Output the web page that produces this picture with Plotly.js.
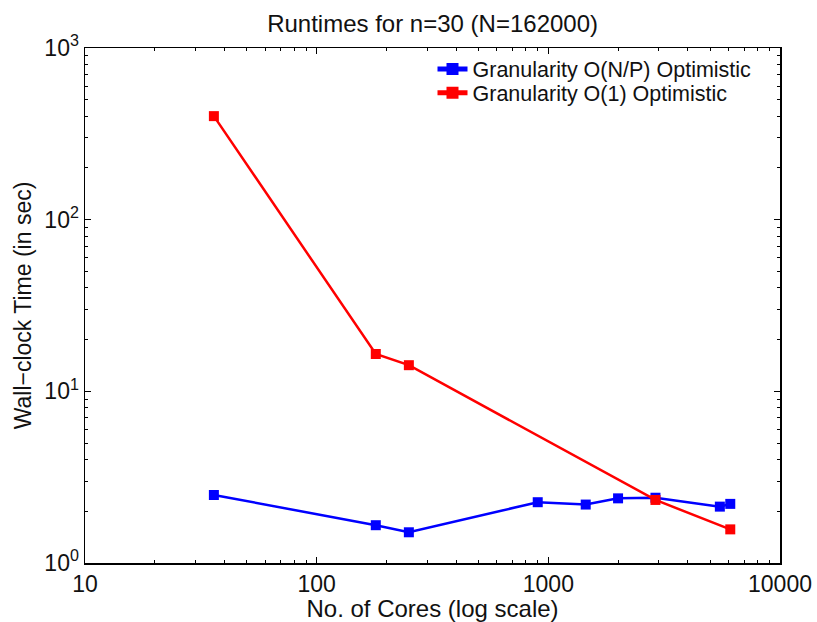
<!DOCTYPE html>
<html>
<head>
<meta charset="utf-8">
<script src="https://cdn.plot.ly/plotly-3.0.1.min.js"></script>
<style>html,body{margin:0;padding:0;background:#fff;}#chart{width:817px;height:622px;}</style>
</head>
<body>
<div id="chart"></div>
<script>
// Data
const coresNP = [36, 180, 250, 900, 1450, 2000, 2900, 5500, 6100];
const timeNP  = [2.49, 1.66, 1.51, 2.26, 2.19, 2.38, 2.40, 2.13, 2.21];
const coresO1 = [36, 180, 250, 2900, 6100];
const timeO1  = [401, 16.5, 14.2, 2.33, 1.57];
const seriesNames = ["Granularity O(N/P) Optimistic", "Granularity O(1) Optimistic"];
const xTickVals = [10, 100, 1000, 10000];
const xTickText = ["10", "100", "1000", "10000"];
const yTickVals = [1, 10, 100, 1000];
const yTickText = ["10<sup>0</sup>", "10<sup>1</sup>", "10<sup>2</sup>", "10<sup>3</sup>"];

function minorVals(lo, hi) {
  const out = [];
  for (let d = lo; d < hi; d *= 10) for (let k = 2; k <= 9; k++) out.push(k * d);
  return out;
}

const font = "Liberation Sans, Arial, sans-serif";
const traces = [
  {x: coresNP, y: timeNP, name: seriesNames[0], mode: "lines+markers", legend: "legend",
   line: {color: "#0000ff", width: 2.5}, marker: {symbol: "square", size: 10, color: "#0000ff"}},
  {x: coresO1, y: timeO1, name: seriesNames[1], mode: "lines+markers", legend: "legend2",
   line: {color: "#ff0000", width: 2.5}, marker: {symbol: "square", size: 10, color: "#ff0000"}}
];

const axisCommon = {
  type: "log", showgrid: false, zeroline: false,
  showline: true, linecolor: "#000", linewidth: 1.5, mirror: "ticks",
  ticks: "inside", ticklen: 6, tickwidth: 1, tickcolor: "#000",
  tickmode: "array", tickfont: {family: font, size: 23, color: "#111"}
};

const legendCommon = {xanchor: "left", yanchor: "middle", bgcolor: "rgba(255,255,255,0)",
  font: {family: font, size: 21.5, color: "#111"}, itemsizing: "constant"};

const layout = {
  width: 817, height: 622,
  margin: {l: 85, r: 37, t: 48, b: 59},
  paper_bgcolor: "#fff", plot_bgcolor: "#fff",
  showlegend: true,
  title: {text: "Runtimes for n=30 (N=162000)", font: {family: font, size: 24, color: "#111"},
          x: 0.5295, xanchor: "center", y: 0.962, yanchor: "middle"},
  xaxis: Object.assign({}, axisCommon, {
    range: [1, 4], tickvals: xTickVals, ticktext: xTickText,
    minor: {tickmode: "array", tickvals: minorVals(10, 10000), ticks: "inside", ticklen: 3, tickwidth: 1, tickcolor: "#000"},
    title: {text: "No. of Cores (log scale)", font: {family: font, size: 24, color: "#111"}, standoff: 0}
  }),
  yaxis: Object.assign({}, axisCommon, {
    range: [0, 3], tickvals: yTickVals, ticktext: yTickText,
    minor: {tickmode: "array", tickvals: minorVals(1, 1000), ticks: "inside", ticklen: 3, tickwidth: 1, tickcolor: "#000"},
    title: {text: "Wall\u2212clock Time (in sec)", font: {family: font, size: 23, color: "#111"}, standoff: 6}
  }),
  legend: Object.assign({}, legendCommon, {x: 0.50, y: 0.959}),
  legend2: Object.assign({}, legendCommon, {x: 0.50, y: 0.913})
};

Plotly.newPlot("chart", traces, layout, {displayModeBar: false, staticPlot: true});
</script>
</body>
</html>
